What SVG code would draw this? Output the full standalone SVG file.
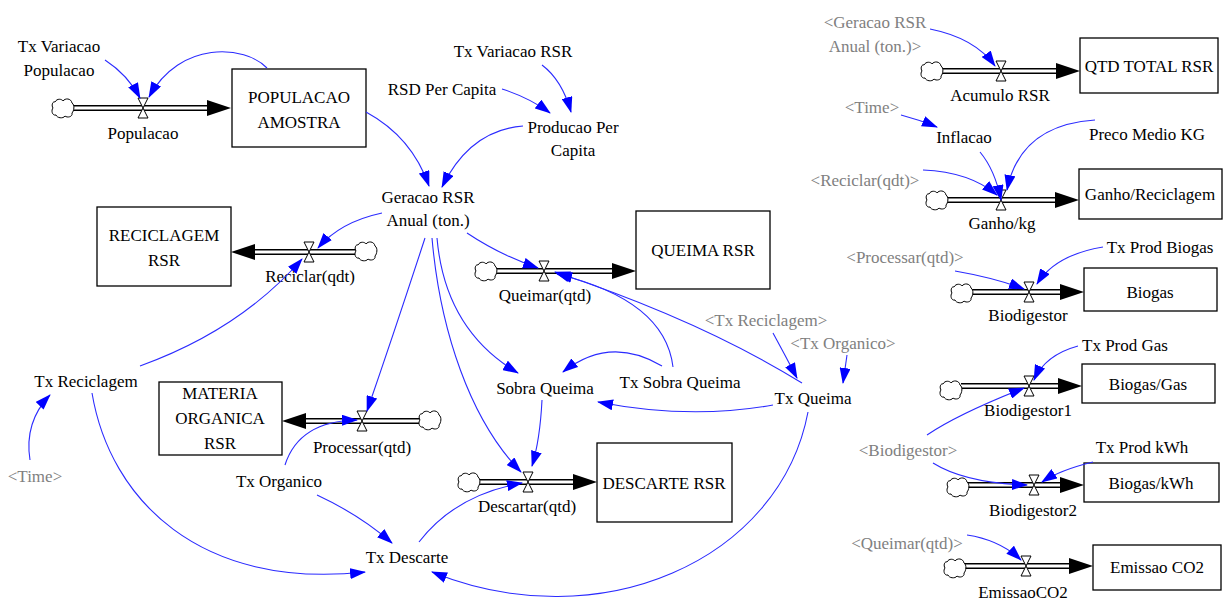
<svg xmlns="http://www.w3.org/2000/svg" xmlns:xlink="http://www.w3.org/1999/xlink" width="1225" height="606" viewBox="0 0 1225 606" font-family="'Liberation Serif', 'DejaVu Serif', 'Times New Roman', serif">
  <style>
    text { font-family: 'Liberation Serif', 'DejaVu Serif', 'Times New Roman', serif; font-size: 17px; fill: #000; text-anchor: middle; }
    text.shadow { fill: #808080; }
    .stock rect { fill: #fff; stroke: #000; stroke-width: 1.3; }
    .pipe-out { fill: none; stroke: #000; stroke-width: 6; }
    .pipe-in { fill: none; stroke: #fff; stroke-width: 3; }
    .pipe-head { fill: #000; }
    .link { fill: none; stroke: #2b2bff; stroke-width: 1.1; marker-end: url(#tip); }
  </style>
  <defs>
    <marker id="tip" viewBox="0 0 16 11" refX="15" refY="5.5" markerWidth="16" markerHeight="11" markerUnits="userSpaceOnUse" orient="auto">
      <path d="M0,0 L16,5.5 L0,11 Z" fill="#0000ff"/>
    </marker>
    <path id="cloud" d="M-8,-6 C-6,-10 -1,-9 0,-7 C2,-10 8,-10 9,-5 C12,-3 11,3 9,5 C10,9 4,10 2,8 C0,11 -6,10 -7,7 C-11,8 -12,2 -10,0 C-12,-3 -10,-7 -8,-6 Z" fill="#fff" stroke="#000" stroke-width="1"/>
    <path id="valve" d="M-5,-10 H5 L-5,10 H5 Z" fill="#fff" stroke="#000" stroke-width="1"/>
    <path id="head-r" d="M-24,-8 L0,0 L-24,8 Z" class="pipe-head"/>
    <path id="head-l" d="M24,-8 L0,0 L24,8 Z" class="pipe-head"/>
  </defs>

  <rect width="1225" height="606" fill="#fff"/>

  <!-- stocks -->
  <g id="populacao-amostra" class="stock">
    <rect x="232" y="69" width="134" height="78"/>
    <text x="299" y="103">POPULACAO</text>
    <text x="299" y="128">AMOSTRA</text>
  </g>
  <g id="reciclagem-rsr" class="stock">
    <rect x="97" y="207" width="134" height="79"/>
    <text x="164" y="241">RECICLAGEM</text>
    <text x="164" y="266">RSR</text>
  </g>
  <g id="queima-rsr" class="stock">
    <rect x="636" y="211" width="134" height="78"/>
    <text x="703" y="256">QUEIMA RSR</text>
  </g>
  <g id="materia-organica-rsr" class="stock">
    <rect x="159" y="382" width="123" height="73"/>
    <text x="220" y="399">MATERIA</text>
    <text x="220" y="424">ORGANICA</text>
    <text x="220" y="449">RSR</text>
  </g>
  <g id="descarte-rsr" class="stock">
    <rect x="597" y="443" width="135" height="79"/>
    <text x="664" y="489">DESCARTE RSR</text>
  </g>
  <g id="qtd-total-rsr" class="stock">
    <rect x="1080" y="38" width="138" height="55"/>
    <text x="1149" y="72">QTD TOTAL RSR</text>
  </g>
  <g id="ganho-reciclagem" class="stock">
    <rect x="1079" y="169" width="143" height="50"/>
    <text x="1150" y="200">Ganho/Reciclagem</text>
  </g>
  <g id="biogas" class="stock">
    <rect x="1084" y="268" width="133" height="43"/>
    <text x="1150" y="298">Biogas</text>
  </g>
  <g id="biogas-gas" class="stock">
    <rect x="1082" y="364" width="133" height="39"/>
    <text x="1148" y="390">Biogas/Gas</text>
  </g>
  <g id="biogas-kwh" class="stock">
    <rect x="1084" y="463" width="135" height="39"/>
    <text x="1151" y="489">Biogas/kWh</text>
  </g>
  <g id="emissao-co2" class="stock">
    <rect x="1093" y="545" width="128" height="45"/>
    <text x="1157" y="573">Emissao CO2</text>
  </g>

  <!-- flows: pipe, valve, source cloud, name -->
  <g id="flow-populacao">
    <line class="pipe-out" x1="72" y1="108" x2="208" y2="108"/>
    <line class="pipe-in" x1="72" y1="108" x2="208" y2="108"/>
    <use xlink:href="#head-r" x="231" y="108"/>
    <use xlink:href="#cloud" x="63" y="108"/>
    <use xlink:href="#valve" x="143" y="108"/>
    <text x="143" y="139">Populacao</text>
  </g>
  <g id="flow-reciclar">
    <line class="pipe-out" x1="356" y1="252" x2="255" y2="252"/>
    <line class="pipe-in" x1="356" y1="252" x2="255" y2="252"/>
    <use xlink:href="#head-l" x="231" y="252"/>
    <use xlink:href="#cloud" x="366" y="251"/>
    <use xlink:href="#valve" x="309" y="252"/>
    <text x="310" y="282">Reciclar(qdt)</text>
  </g>
  <g id="flow-queimar">
    <line class="pipe-out" x1="496" y1="271" x2="612" y2="271"/>
    <line class="pipe-in" x1="496" y1="271" x2="612" y2="271"/>
    <use xlink:href="#head-r" x="636" y="271"/>
    <use xlink:href="#cloud" x="486" y="271"/>
    <use xlink:href="#valve" x="544" y="271"/>
    <text x="545" y="301">Queimar(qtd)</text>
  </g>
  <g id="flow-processar">
    <line class="pipe-out" x1="420" y1="421" x2="306" y2="421"/>
    <line class="pipe-in" x1="420" y1="421" x2="306" y2="421"/>
    <use xlink:href="#head-l" x="282" y="421"/>
    <use xlink:href="#cloud" x="430" y="420"/>
    <use xlink:href="#valve" x="362" y="421"/>
    <text x="362" y="453">Processar(qtd)</text>
  </g>
  <g id="flow-descartar">
    <line class="pipe-out" x1="479" y1="482" x2="573" y2="482"/>
    <line class="pipe-in" x1="479" y1="482" x2="573" y2="482"/>
    <use xlink:href="#head-r" x="597" y="482"/>
    <use xlink:href="#cloud" x="469" y="482"/>
    <use xlink:href="#valve" x="528" y="482"/>
    <text x="527" y="512">Descartar(qtd)</text>
  </g>
  <g id="flow-acumulo-rsr">
    <line class="pipe-out" x1="942" y1="71" x2="1056" y2="71"/>
    <line class="pipe-in" x1="942" y1="71" x2="1056" y2="71"/>
    <use xlink:href="#head-r" x="1080" y="71"/>
    <use xlink:href="#cloud" x="932" y="71"/>
    <use xlink:href="#valve" x="1001" y="71"/>
    <text x="1000" y="101">Acumulo RSR</text>
  </g>
  <g id="flow-ganho-kg">
    <line class="pipe-out" x1="947" y1="200" x2="1055" y2="200"/>
    <line class="pipe-in" x1="947" y1="200" x2="1055" y2="200"/>
    <use xlink:href="#head-r" x="1079" y="200"/>
    <use xlink:href="#cloud" x="937" y="200"/>
    <use xlink:href="#valve" x="1001" y="200"/>
    <text x="1002" y="229">Ganho/kg</text>
  </g>
  <g id="flow-biodigestor">
    <line class="pipe-out" x1="972" y1="292" x2="1060" y2="292"/>
    <line class="pipe-in" x1="972" y1="292" x2="1060" y2="292"/>
    <use xlink:href="#head-r" x="1084" y="292"/>
    <use xlink:href="#cloud" x="962" y="293"/>
    <use xlink:href="#valve" x="1029" y="292"/>
    <text x="1028" y="321">Biodigestor</text>
  </g>
  <g id="flow-biodigestor1">
    <line class="pipe-out" x1="961" y1="386" x2="1058" y2="386"/>
    <line class="pipe-in" x1="961" y1="386" x2="1058" y2="386"/>
    <use xlink:href="#head-r" x="1082" y="386"/>
    <use xlink:href="#cloud" x="951" y="390"/>
    <use xlink:href="#valve" x="1029" y="386"/>
    <text x="1028" y="416">Biodigestor1</text>
  </g>
  <g id="flow-biodigestor2">
    <line class="pipe-out" x1="968" y1="485" x2="1060" y2="485"/>
    <line class="pipe-in" x1="968" y1="485" x2="1060" y2="485"/>
    <use xlink:href="#head-r" x="1084" y="485"/>
    <use xlink:href="#cloud" x="958" y="487"/>
    <use xlink:href="#valve" x="1034" y="485"/>
    <text x="1033" y="516">Biodigestor2</text>
  </g>
  <g id="flow-emissao-co2">
    <line class="pipe-out" x1="965" y1="566" x2="1069" y2="566"/>
    <line class="pipe-in" x1="965" y1="566" x2="1069" y2="566"/>
    <use xlink:href="#head-r" x="1093" y="566"/>
    <use xlink:href="#cloud" x="955" y="568"/>
    <use xlink:href="#valve" x="1026" y="566"/>
    <text x="1023" y="598">EmissaoCO2</text>
  </g>

  <!-- auxiliary variables -->
  <g id="tx-variacao-populacao"><text x="59" y="52">Tx Variacao</text><text x="59" y="76">Populacao</text></g>
  <g id="tx-variacao-rsr"><text x="513" y="57">Tx Variacao RSR</text></g>
  <g id="rsd-per-capita"><text x="442" y="95">RSD Per Capita</text></g>
  <g id="producao-per-capita"><text x="573" y="133">Producao Per</text><text x="573" y="156">Capita</text></g>
  <g id="geracao-rsr-anual"><text x="428" y="203">Geracao RSR</text><text x="428" y="226">Anual (ton.)</text></g>
  <g id="tx-reciclagem"><text x="86" y="387">Tx Reciclagem</text></g>
  <g id="time-1"><text class="shadow" x="35" y="482">&lt;Time&gt;</text></g>
  <g id="tx-organico"><text x="279" y="487">Tx Organico</text></g>
  <g id="tx-descarte"><text x="407" y="563">Tx Descarte</text></g>
  <g id="sobra-queima"><text x="545" y="394">Sobra Queima</text></g>
  <g id="tx-sobra-queima"><text x="680" y="388">Tx Sobra Queima</text></g>
  <g id="tx-queima"><text x="813" y="404">Tx Queima</text></g>
  <g id="tx-reciclagem-shadow"><text class="shadow" x="766" y="326">&lt;Tx Reciclagem&gt;</text></g>
  <g id="tx-organico-shadow"><text class="shadow" x="843" y="349">&lt;Tx Organico&gt;</text></g>
  <g id="geracao-rsr-shadow"><text class="shadow" x="875" y="28">&lt;Geracao RSR</text><text class="shadow" x="875" y="52">Anual (ton.)&gt;</text></g>
  <g id="time-2"><text class="shadow" x="872" y="113">&lt;Time&gt;</text></g>
  <g id="inflacao"><text x="964" y="143">Inflacao</text></g>
  <g id="preco-medio-kg"><text x="1147" y="140">Preco Medio KG</text></g>
  <g id="reciclar-shadow"><text class="shadow" x="865" y="186">&lt;Reciclar(qdt)&gt;</text></g>
  <g id="tx-prod-biogas"><text x="1160" y="253">Tx Prod Biogas</text></g>
  <g id="processar-shadow"><text class="shadow" x="905" y="263">&lt;Processar(qtd)&gt;</text></g>
  <g id="tx-prod-gas"><text x="1125" y="351">Tx Prod Gas</text></g>
  <g id="biodigestor-shadow"><text class="shadow" x="908" y="456">&lt;Biodigestor&gt;</text></g>
  <g id="tx-prod-kwh"><text x="1142" y="453">Tx Prod kWh</text></g>
  <g id="queimar-shadow"><text class="shadow" x="907" y="549">&lt;Queimar(qtd)&gt;</text></g>

  <!-- information links -->
  <g id="connectors">
    <path class="link" d="M105,60 Q128,75 140,98"/>
    <path class="link" d="M267,68 C245,45 180,40 149,97"/>
    <path class="link" d="M366,112 Q412,137 429,186"/>
    <path class="link" d="M502,89 Q530,98 550,113"/>
    <path class="link" d="M542,65 Q562,80 571,112"/>
    <path class="link" d="M523,126 Q470,130 442,187"/>
    <path class="link" d="M382,213 Q340,222 318,248"/>
    <path class="link" d="M140,366 Q240,330 302,259"/>
    <path class="link" d="M467,233 Q500,255 538,268"/>
    <path class="link" d="M802,383 Q700,320 555,272"/>
    <path class="link" d="M673,367 Q665,300 557,274"/>
    <path class="link" d="M437,238 Q445,330 518,373"/>
    <path class="link" d="M432,238 C440,330 470,420 521,472"/>
    <path class="link" d="M542,400 Q540,440 532,466"/>
    <path class="link" d="M662,366 Q610,335 563,372"/>
    <path class="link" d="M773,405 Q690,420 598,402"/>
    <path class="link" d="M773,333 Q785,355 797,378"/>
    <path class="link" d="M847,355 L843,383"/>
    <path class="link" d="M425,238 Q395,330 367,411"/>
    <path class="link" d="M285,465 Q299,421 357,420"/>
    <path class="link" d="M30,460 Q24,422 50,395"/>
    <path class="link" d="M92,393 C110,500 200,590 365,572"/>
    <path class="link" d="M317,495 Q360,515 392,543"/>
    <path class="link" d="M419,542 Q455,495 522,483"/>
    <path class="link" d="M808,412 C780,560 600,640 432,572"/>
    <path class="link" d="M930,29 Q975,38 995,66"/>
    <path class="link" d="M901,115 Q920,120 937,127"/>
    <path class="link" d="M980,152 Q995,170 1001,200"/>
    <path class="link" d="M1095,120 Q1020,125 1007,190"/>
    <path class="link" d="M923,170 Q970,172 997,195"/>
    <path class="link" d="M955,271 Q995,278 1024,289"/>
    <path class="link" d="M1103,247 Q1055,255 1037,284"/>
    <path class="link" d="M1078,346 Q1045,355 1034,380"/>
    <path class="link" d="M927,435 Q958,414 1024,388"/>
    <path class="link" d="M933,463 Q965,483 1027,485"/>
    <path class="link" d="M1093,462 Q1060,470 1042,482"/>
    <path class="link" d="M967,535 Q1000,540 1021,560"/>
  </g>
</svg>
